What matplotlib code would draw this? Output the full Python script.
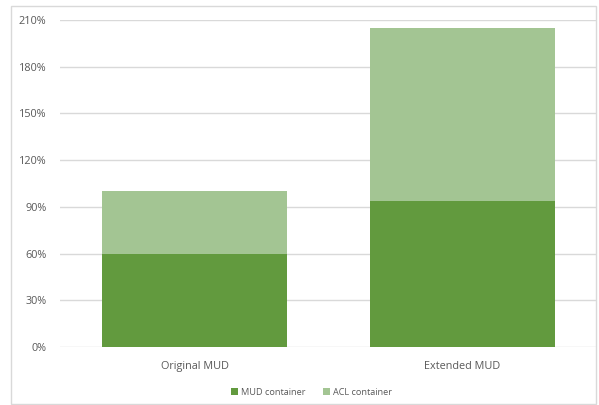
import matplotlib
matplotlib.use('Agg')
import matplotlib.pyplot as plt
from matplotlib.patches import Rectangle
from matplotlib.ticker import FuncFormatter

categories = ['Original MUD', 'Extended MUD']
mud_container = [60, 94]
acl_container = [40, 111]
yticks = [0, 30, 60, 90, 120, 150, 180, 210]

plt.rcParams['font.family'] = ['Open Sans', 'DejaVu Sans']

fig = plt.figure(figsize=(5.99, 4.05), dpi=100)
ax = fig.add_axes([0.101, 0.1432, 0.895, 0.8074])

x = range(len(categories))
ax.bar(x, mud_container, width=0.69, color='#629a3e', label='MUD container', zorder=2)
ax.bar(x, acl_container, width=0.69, bottom=mud_container, color='#a3c593',
       label='ACL container', zorder=2)

ax.set_xlim(-0.5, 1.5)
ax.set_ylim(0, 210)
ax.set_yticks(yticks)
ax.yaxis.set_major_formatter(FuncFormatter(lambda v, p: f'{v:.0f}%'))
ax.set_xticks(list(x))
ax.set_xticklabels(categories)
ax.grid(axis='y', color='#d9d9d9', linewidth=1, zorder=0)
for s in ax.spines.values():
    s.set_visible(False)
ax.tick_params(length=0, colors='#595959', labelsize=7.8)
ax.tick_params(axis='x', pad=10)
ax.tick_params(axis='y', pad=10)

leg = fig.legend(loc='center', bbox_to_anchor=(0.52, 0.032), ncol=2, frameon=False,
                 fontsize=6.6, handlelength=0.75, handleheight=0.75, columnspacing=2.0,
                 handletextpad=0.3, labelcolor='#595959')

fig.patches.append(Rectangle((11 / 599, 0.002), 0.995 - 11 / 599, 1 - 6 / 405 - 0.002,
                             transform=fig.transFigure, fill=False,
                             edgecolor='#d9d9d9', linewidth=1))

fig.savefig('out.png', dpi=100)
